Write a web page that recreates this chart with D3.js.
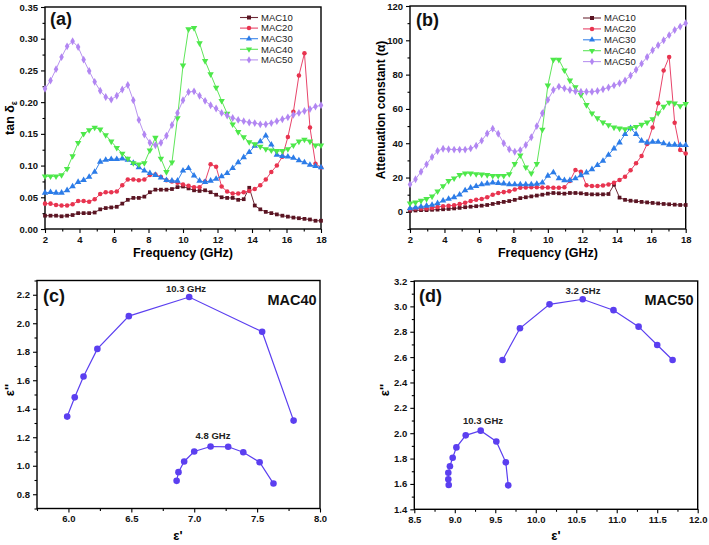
<!DOCTYPE html>
<html><head><meta charset="utf-8">
<script src="https://cdn.jsdelivr.net/npm/d3@7"></script>
<style>
body{margin:0;background:#fff}
svg{display:block}
text{font-family:"Liberation Sans",Arial,sans-serif}
</style>
</head><body>
<svg id="chart" width="709" height="545"></svg>
<script>
// ---------- DATA ----------
const freqGHz = [2.00,2.32,2.64,2.96,3.28,3.60,3.92,4.24,4.56,4.88,5.20,5.52,5.84,6.16,6.48,6.80,7.12,7.44,7.76,8.08,8.40,8.72,9.04,9.36,9.68,10.00,10.32,10.64,10.96,11.28,11.60,11.92,12.24,12.56,12.88,13.20,13.52,13.84,14.16,14.48,14.80,15.12,15.44,15.76,16.08,16.40,16.72,17.04,17.36,17.68,18.00];
const seriesNames = ["MAC10","MAC20","MAC30","MAC40","MAC50"];

// panel (a): tan delta_e
const tanMAC10 = [0.021,0.021,0.021,0.020,0.021,0.022,0.025,0.025,0.025,0.026,0.031,0.033,0.034,0.035,0.040,0.046,0.049,0.049,0.051,0.058,0.062,0.062,0.062,0.063,0.066,
  0.067,0.064,0.061,0.060,0.061,0.058,0.054,0.050,0.049,0.049,0.046,0.047,0.065,0.037,0.031,0.027,0.025,0.023,0.021,0.0195,0.018,0.017,0.016,0.015,0.013,0.013];
const tanMAC20 = [0.040,0.040,0.038,0.037,0.037,0.039,0.044,0.044,0.043,0.047,0.055,0.058,0.058,0.059,0.069,0.078,0.078,0.077,0.078,0.085,0.086,0.082,0.077,0.075,0.073,
  0.070,0.068,0.066,0.066,0.075,0.102,0.098,0.067,0.059,0.056,0.056,0.058,0.060,0.063,0.069,0.078,0.090,0.100,0.114,0.145,0.185,0.242,0.277,0.160,0.103,0.097];
const tanMAC30 = [0.057,0.058,0.057,0.057,0.061,0.067,0.074,0.077,0.082,0.090,0.106,0.109,0.110,0.110,0.111,0.109,0.104,0.097,0.092,0.088,0.085,0.081,0.077,0.076,0.076,
  0.092,0.096,0.084,0.076,0.074,0.076,0.079,0.083,0.088,0.096,0.105,0.113,0.121,0.131,0.138,0.147,0.133,0.117,0.115,0.114,0.112,0.108,0.105,0.101,0.099,0.097];
const tanMAC40 = [0.083,0.083,0.083,0.085,0.095,0.115,0.136,0.150,0.156,0.160,0.157,0.148,0.138,0.128,0.119,0.111,0.104,0.102,0.104,0.124,0.144,0.111,0.090,0.105,0.175,
  0.258,0.315,0.317,0.293,0.265,0.244,0.223,0.202,0.182,0.165,0.153,0.145,0.137,0.134,0.130,0.126,0.124,0.123,0.123,0.126,0.132,0.138,0.141,0.138,0.132,0.132];
const tanMAC50 = [0.221,0.234,0.252,0.271,0.288,0.296,0.287,0.267,0.249,0.232,0.218,0.208,0.204,0.210,0.220,0.227,0.203,0.172,0.149,0.136,0.132,0.136,0.147,0.164,0.183,
  0.203,0.216,0.217,0.210,0.202,0.195,0.190,0.183,0.179,0.175,0.172,0.170,0.168,0.167,0.165,0.165,0.167,0.170,0.173,0.176,0.180,0.183,0.186,0.189,0.193,0.195];

// panel (b): attenuation constant
const attMAC10 = [0.5,0.8,1.0,1.0,1.2,1.3,1.5,1.7,2.0,2.3,2.7,3.0,3.3,3.6,4.0,4.6,5.2,5.8,6.3,7.0,8.0,8.5,9.0,9.5,10.0,
  10.6,11.0,10.8,10.6,11.0,11.0,10.8,10.4,10.2,10.2,10.2,10.4,15.8,8.3,7.0,6.5,6.2,5.8,5.5,5.2,4.9,4.6,4.4,4.2,4.0,4.0];
const attMAC20 = [1.5,2.0,2.0,2.0,2.3,2.8,3.3,3.5,3.8,4.5,5.3,6.3,7.0,7.5,8.5,10.0,11.0,11.5,12.0,13.0,14.0,14.2,14.3,14.3,14.2,
  14.2,14.0,14.0,14.3,18.0,24.4,23.3,15.5,15.0,15.0,15.4,16.0,17.0,18.6,20.5,24.2,28.3,32.6,39.5,49.2,63.3,82.4,90.3,52.0,36.0,34.0];
const attMAC30 = [2.0,2.5,3.0,3.5,4.0,5.0,6.5,7.5,8.5,10.0,12.5,14.0,15.0,16.0,16.5,17.0,16.8,16.5,16.0,16.0,16.0,16.0,16.0,16.3,17.0,
  21.0,23.0,19.5,18.4,18.4,19.5,21.3,22.9,24.8,27.2,29.7,33.2,36.9,40.4,45.3,48.8,45.3,41.4,40.4,40.8,40.8,39.9,39.1,39.1,38.9,38.9];
const attMAC40 = [5.0,5.5,6.5,7.5,9.0,12.0,15.0,18.0,19.5,21.5,22.5,22.5,22.0,21.8,21.5,21.0,21.0,21.0,22.0,28.0,33.0,26.0,22.5,28.0,48.0,
  73.7,88.7,88.7,82.5,76.6,72.7,68.2,62.3,57.4,54.6,52.1,50.6,49.2,48.6,48.2,48.8,49.6,50.8,52.1,54.1,57.6,61.3,63.7,63.3,61.7,62.9];
const attMAC50 = [16,19,23.4,27.7,32,35.5,36.8,36.5,36.3,36.3,36.3,37,38.5,41.5,45.7,48.5,45.5,40,36.5,35,36,39,43.5,50,57.5,
  65.3,71,73,72,71,70.3,70,70,70,70.5,71.5,72.5,73.7,75,76.6,79.5,82.8,86.4,90.3,94.2,97.1,100,103,106,108,110];

// panel (c): Cole-Cole MAC40
const mac40ArcA_epsReal = [5.99,6.05,6.12,6.23,6.48,6.96,7.54,7.79];
const mac40ArcA_epsImag = [1.345,1.48,1.626,1.82,2.05,2.184,1.94,1.317];
const mac40ArcB_epsReal = [6.86,6.875,6.92,7.00,7.13,7.27,7.39,7.52,7.63];
const mac40ArcB_epsImag = [0.894,0.955,1.03,1.10,1.135,1.133,1.095,1.025,0.875];
// panel (d): Cole-Cole MAC50
const mac50ArcA_epsReal = [9.59,9.805,10.17,10.58,10.96,11.27,11.50,11.69];
const mac50ArcA_epsImag = [2.577,2.827,3.016,3.056,2.97,2.84,2.695,2.577];
const mac50ArcB_epsReal = [8.925,8.92,8.92,8.94,8.974,9.02,9.135,9.32,9.513,9.63,9.66];
const mac50ArcB_epsImag = [1.591,1.636,1.688,1.74,1.806,1.888,1.983,2.02,1.935,1.77,1.589];

// tick labels
const ticksA_y = [0,0.05,0.10,0.15,0.20,0.25,0.30,0.35];
const ticksFreq = [2,4,6,8,10,12,14,16,18];
const ticksB_y = [0,20,40,60,80,100,120];
const ticksC_x = [6.0,6.5,7.0,7.5,8.0];
const ticksC_y = [0.8,1.0,1.2,1.4,1.6,1.8,2.0,2.2];
const ticksD_x = [8.5,9.0,9.5,10.0,10.5,11.0,11.5,12.0];
const ticksD_y = [1.4,1.6,1.8,2.0,2.2,2.4,2.6,2.8,3.0,3.2];

// ---------- STYLE ----------
const colors = {MAC10:"#5a1422",MAC20:"#e8344f",MAC30:"#2c7ce8",MAC40:"#4de84a",MAC50:"#b286f2"};
const lineColors = {MAC10:"#6e2a38",MAC20:"#e8446a",MAC30:"#3b86ea",MAC40:"#5fe65a",MAC50:"#b994f0"};
const symbols = {MAC10:d3.symbolSquare,MAC20:d3.symbolCircle,MAC30:d3.symbolTriangle,MAC40:d3.symbolTriangle,MAC50:d3.symbolDiamond};
const rot = {MAC10:0,MAC20:0,MAC30:0,MAC40:180,MAC50:0};
const coleColor = "#5b3ff0";

const svg = d3.select("#chart");

function frame(x, y, xMajor, xMinor, yMajor, yMinor, fx, fy) {
  const g = svg.append("g");
  const [x0,x1] = x.range(), [y0,y1] = y.range();
  g.append("g").attr("transform",`translate(0,${y0})`)
    .call(d3.axisBottom(x).tickValues(xMajor).tickFormat(fx).tickSize(4).tickPadding(3));
  g.append("g").attr("transform",`translate(0,${y0})`)
    .call(d3.axisBottom(x).tickValues(xMinor).tickFormat("").tickSize(2.5));
  g.append("g").attr("transform",`translate(${x0},0)`)
    .call(d3.axisLeft(y).tickValues(yMajor).tickFormat(fy).tickSize(4).tickPadding(3));
  g.append("g").attr("transform",`translate(${x0},0)`)
    .call(d3.axisLeft(y).tickValues(yMinor).tickFormat("").tickSize(2.5));
  g.selectAll(".domain").remove();
  g.selectAll(".tick line").attr("stroke","#000").attr("stroke-width",1.1);
  g.selectAll(".tick text").attr("font-size","9.5px").attr("font-weight","bold").attr("fill","#111")
    .attr("font-family",'"Liberation Sans",Arial,sans-serif');
  g.append("rect").attr("x",x0).attr("y",y1).attr("width",x1-x0).attr("height",y0-y1)
    .attr("fill","none").attr("stroke","#000").attr("stroke-width",1.4);
  return g;
}

function freqPanel(x, y, dataMap, legendX, legendY0, legendDy) {
  const g = svg.append("g");
  seriesNames.forEach(name => {
    const vals = dataMap[name];
    const pts = freqGHz.map((f,i)=>[f,vals[i]]);
    g.append("path").datum(pts).attr("fill","none").attr("stroke",lineColors[name]).attr("stroke-width",1)
      .attr("d", d3.line().x(d=>x(d[0])).y(d=>y(d[1])));
    g.selectAll(null).data(pts).join("path")
      .attr("d", d3.symbol().type(symbols[name]).size(name==="MAC10"?14:(name==="MAC20"?16:18)))
      .attr("transform", d=>`translate(${x(d[0])},${y(d[1])}) rotate(${rot[name]})`)
      .attr("fill", colors[name]);
  });
  seriesNames.forEach((name,i)=>{
    const yy = legendY0 + i*legendDy;
    g.append("line").attr("x1",legendX).attr("x2",legendX+18).attr("y1",yy).attr("y2",yy)
      .attr("stroke",lineColors[name]).attr("stroke-width",1.1);
    g.append("path").attr("d", d3.symbol().type(symbols[name]).size(16))
      .attr("transform",`translate(${legendX+9},${yy}) rotate(${rot[name]})`).attr("fill",colors[name]);
    g.append("text").attr("x",legendX+21).attr("y",yy+3.3).attr("font-size","9.5px").attr("fill","#222").text(name);
  });
}

function colePanel(x, y, arcs) {
  const g = svg.append("g");
  arcs.forEach(([re,im])=>{
    const pts = re.map((v,i)=>[v,im[i]]);
    g.append("path").datum(pts).attr("fill","none").attr("stroke",coleColor).attr("stroke-width",1.2)
      .attr("d", d3.line().x(d=>x(d[0])).y(d=>y(d[1])));
    g.selectAll(null).data(pts).join("circle")
      .attr("cx",d=>x(d[0])).attr("cy",d=>y(d[1])).attr("r",3.3).attr("fill",coleColor);
  });
  return g;
}

function panelLabel(txt, x, y) {
  svg.append("text").attr("x",x).attr("y",y).attr("font-family",'"Liberation Serif","Times New Roman",serif')
    .attr("font-weight","bold").attr("font-size","18px").attr("fill","#111").text(txt);
}

// ---------- PANEL (a) ----------
const xa = d3.scaleLinear().domain([2,18]).range([45,321]);
const ya = d3.scaleLinear().domain([0,0.35]).range([229,7]);
frame(xa, ya, ticksFreq, d3.range(3,18,2), ticksA_y, [0.025,0.075,0.125,0.175,0.225,0.275,0.325],
  d3.format("d"), d3.format(".2f"));
freqPanel(xa, ya, {MAC10:tanMAC10,MAC20:tanMAC20,MAC30:tanMAC30,MAC40:tanMAC40,MAC50:tanMAC50}, 240, 17.5, 10.6);
panelLabel("(a)", 50, 25);
svg.append("text").attr("x",183).attr("y",257).attr("text-anchor","middle").attr("font-weight","bold")
  .attr("font-size","12.5px").text("Frequency (GHz)");
{
  const t = svg.append("text").attr("transform","translate(14,118) rotate(-90)").attr("text-anchor","middle")
    .attr("font-weight","bold").attr("font-size","12.5px");
  t.append("tspan").text("tan δ");
  t.append("tspan").attr("font-size","8.5px").attr("dy",3).text("ε");
}

// ---------- PANEL (b) ----------
const xb = d3.scaleLinear().domain([2,18]).range([410,685.7]);
const yb = d3.scaleLinear().domain([-10,120]).range([229,6]);
frame(xb, yb, ticksFreq, d3.range(3,18,2), ticksB_y, [-10,10,30,50,70,90,110],
  d3.format("d"), d3.format("d"));
freqPanel(xb, yb, {MAC10:attMAC10,MAC20:attMAC20,MAC30:attMAC30,MAC40:attMAC40,MAC50:attMAC50}, 583, 18, 10.9);
panelLabel("(b)", 416, 26);
svg.append("text").attr("x",548).attr("y",257).attr("text-anchor","middle").attr("font-weight","bold")
  .attr("font-size","12.5px").text("Frequency (GHz)");
svg.append("text").attr("transform","translate(385,110) rotate(-90)").attr("text-anchor","middle")
  .attr("font-weight","bold").attr("font-size","12px").text("Attenuation constant (α)");

// ---------- PANEL (c) ----------
const xc = d3.scaleLinear().domain([5.75,8.0]).range([37,320]);
const yc = d3.scaleLinear().domain([0.7,2.3]).range([508.5,280.5]);
frame(xc, yc, ticksC_x, [5.75,6.25,6.75,7.25,7.75], ticksC_y, [0.7,0.9,1.1,1.3,1.5,1.7,1.9,2.1,2.3],
  d3.format(".1f"), d3.format(".1f"));
colePanel(xc, yc, [[mac40ArcA_epsReal,mac40ArcA_epsImag],[mac40ArcB_epsReal,mac40ArcB_epsImag]]);
panelLabel("(c)", 43, 302);
svg.append("text").attr("x",186).attr("y",292).attr("text-anchor","middle").attr("font-weight","bold")
  .attr("font-size","9.5px").attr("fill","#222").text("10.3 GHz");
svg.append("text").attr("x",213).attr("y",439).attr("text-anchor","middle").attr("font-weight","bold")
  .attr("font-size","9.5px").attr("fill","#222").text("4.8 GHz");
svg.append("text").attr("x",292).attr("y",305).attr("text-anchor","middle").attr("font-weight","bold")
  .attr("font-size","14.5px").attr("fill","#111").text("MAC40");
svg.append("text").attr("x",178).attr("y",540).attr("text-anchor","middle").attr("font-weight","bold")
  .attr("font-size","13px").text("ε'");
svg.append("text").attr("transform","translate(14,390) rotate(-90)").attr("text-anchor","middle")
  .attr("font-weight","bold").attr("font-size","13px").text("ε''");

// ---------- PANEL (d) ----------
const xd = d3.scaleLinear().domain([8.5,12.0]).range([414.3,697.7]);
const yd = d3.scaleLinear().domain([1.4,3.2]).range([509.3,281]);
frame(xd, yd, ticksD_x, d3.range(8.75,12,0.5), ticksD_y, d3.range(1.5,3.2,0.2),
  d3.format(".1f"), d3.format(".1f"));
colePanel(xd, yd, [[mac50ArcA_epsReal,mac50ArcA_epsImag],[mac50ArcB_epsReal,mac50ArcB_epsImag]]);
panelLabel("(d)", 419, 302);
svg.append("text").attr("x",583).attr("y",294).attr("text-anchor","middle").attr("font-weight","bold")
  .attr("font-size","9.5px").attr("fill","#222").text("3.2 GHz");
svg.append("text").attr("x",483).attr("y",424).attr("text-anchor","middle").attr("font-weight","bold")
  .attr("font-size","9.5px").attr("fill","#222").text("10.3 GHz");
svg.append("text").attr("x",669).attr("y",305).attr("text-anchor","middle").attr("font-weight","bold")
  .attr("font-size","14.5px").attr("fill","#111").text("MAC50");
svg.append("text").attr("x",556).attr("y",540).attr("text-anchor","middle").attr("font-weight","bold")
  .attr("font-size","13px").text("ε'");
svg.append("text").attr("transform","translate(389,390) rotate(-90)").attr("text-anchor","middle")
  .attr("font-weight","bold").attr("font-size","13px").text("ε''");
</script>
</body></html>
